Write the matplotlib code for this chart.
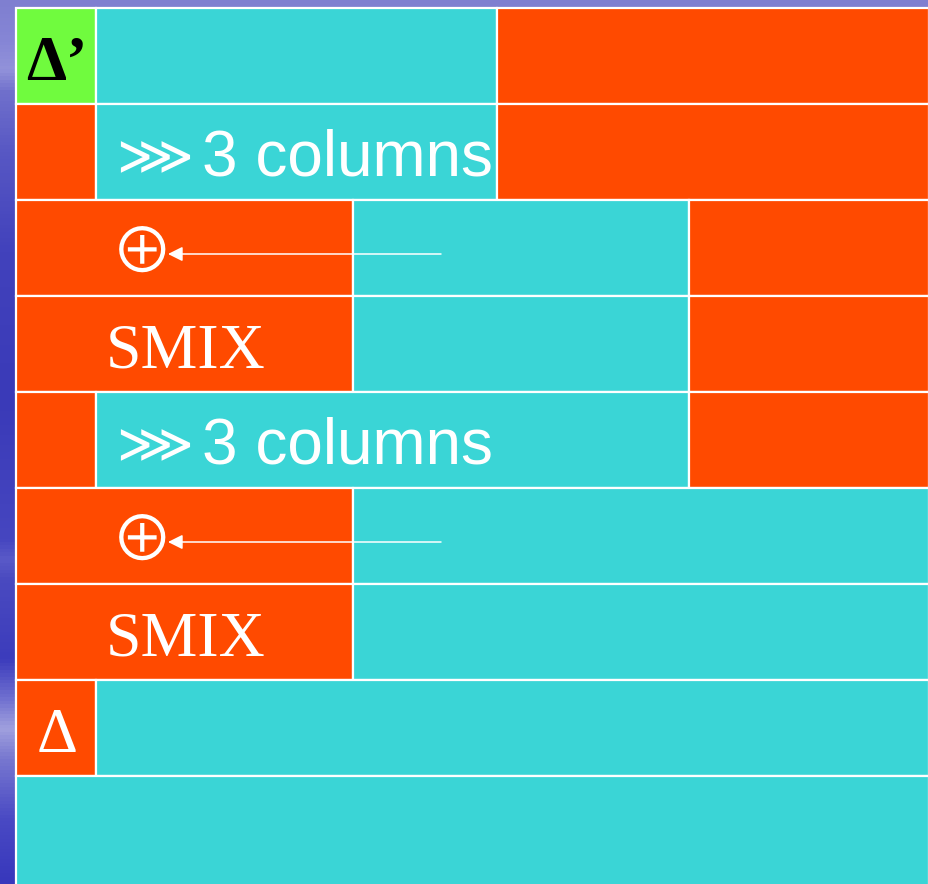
#!/usr/bin/env python3
"""Draw the column-shift / SMIX block diagram."""

import matplotlib.pyplot as plt
import numpy as np
from matplotlib.colors import LinearSegmentedColormap

PALETTE = {
    "orange": "#ff4a00",
    "cyan": "#3ad5d6",
    "green": "#70fb3e",
    "edge": "white",
}

# cell edges of each row, left to right, and the fill of each cell
ROW_EDGES = [
    [16, 96, 497, 929],
    [16, 96, 497, 929],
    [16, 353, 689, 929],
    [16, 353, 689, 929],
    [16, 96, 689, 929],
    [16, 353, 929],
    [16, 353, 929],
    [16, 96, 929],
    [16, 929],
]
ROW_FILLS = [
    ["green", "cyan", "orange"],
    ["orange", "cyan", "orange"],
    ["orange", "cyan", "orange"],
    ["orange", "cyan", "orange"],
    ["orange", "cyan", "orange"],
    ["orange", "cyan"],
    ["orange", "cyan"],
    ["orange", "cyan"],
    ["cyan"],
]

SERIF_ROWS = [0, 3, 6, 7]
SERIF_TEXT = ["Δ’", "SMIX", "SMIX", "Δ"]
SHIFT_ROWS = [1, 4]
SHIFT_TEXT = "3 columns"
XOR_ROWS = [2, 5]

ROW_TOP = 8
ROW_H = 96

# background gradient stops (y px, colour)
BG_STOPS = [
    (0, "#7f7fd0"), (40, "#8686d6"), (68, "#9292da"), (90, "#7070cc"),
    (150, "#5858c4"), (250, "#4242bc"), (400, "#3a3ab8"), (540, "#4646c0"),
    (560, "#5a5ac8"), (580, "#4a4ac0"), (660, "#3c3cbc"), (700, "#7070d0"),
    (730, "#a0a0de"), (760, "#7878d0"), (820, "#4a4ac4"), (884, "#3838bc"),
]


def main() -> None:
    fig = plt.figure(figsize=(9.29, 8.84), dpi=100)
    ax = fig.add_axes([0, 0, 1, 1])
    ax.set_xlim(0, 929)
    ax.set_ylim(884, 0)
    ax.axis("off")

    cmap = LinearSegmentedColormap.from_list(
        "bg", [(y / 884, c) for y, c in BG_STOPS]
    )
    grad = np.linspace(0, 1, 884).reshape(-1, 1)
    ax.imshow(grad, cmap=cmap, aspect="auto", extent=(0, 929, 884, 0), zorder=0)

    for i, (edges, fills) in enumerate(zip(ROW_EDGES, ROW_FILLS)):
        top = ROW_TOP + i * ROW_H
        height = ROW_H if i < len(ROW_EDGES) - 1 else 884 - top + 10
        lefts = edges[:-1]
        widths = np.diff(edges)
        ax.bar(
            lefts,
            height,
            width=widths,
            bottom=top,
            align="edge",
            color=[PALETTE[f] for f in fills],
            edgecolor=PALETTE["edge"],
            linewidth=1.6,
            zorder=2,
        )

    for row, label in zip(SERIF_ROWS, SERIF_TEXT):
        top = ROW_TOP + row * ROW_H
        weight = "normal"
        if label == "Δ’":
            x, color, weight = 26, "black", "bold"
        elif label == "Δ":
            x, color = 37, "white"
        else:
            x, color = 106, "white"
        ax.text(x, top + 72, label, family="Liberation Serif", fontsize=46,
                fontweight=weight, color=color, ha="left", va="baseline",
                zorder=3)

    for row in SHIFT_ROWS:
        top = ROW_TOP + row * ROW_H
        ax.text(116, top + 55, "⋙", family="DejaVu Sans", fontsize=39,
                color="white", ha="left", va="center", zorder=3)
        ax.text(202, top + 71, SHIFT_TEXT, family="Liberation Sans", fontsize=46,
                color="white", ha="left", va="baseline", zorder=3)

    for row in XOR_ROWS:
        y = ROW_TOP + row * ROW_H + 54
        ax.text(142, y + 1, "⊕", family=["Noto Sans CJK JP", "DejaVu Sans"],
                fontsize=45, color="white", ha="center", va="center", zorder=3)
        ax.annotate(
            "",
            xy=(168, y),
            xytext=(441, y),
            arrowprops=dict(arrowstyle="-|>", color="white", lw=1.1,
                            mutation_scale=22, shrinkA=0, shrinkB=0),
            zorder=3,
        )

    fig.savefig("out.png", dpi=100, facecolor="white")
    plt.close(fig)


if __name__ == "__main__":
    main()
